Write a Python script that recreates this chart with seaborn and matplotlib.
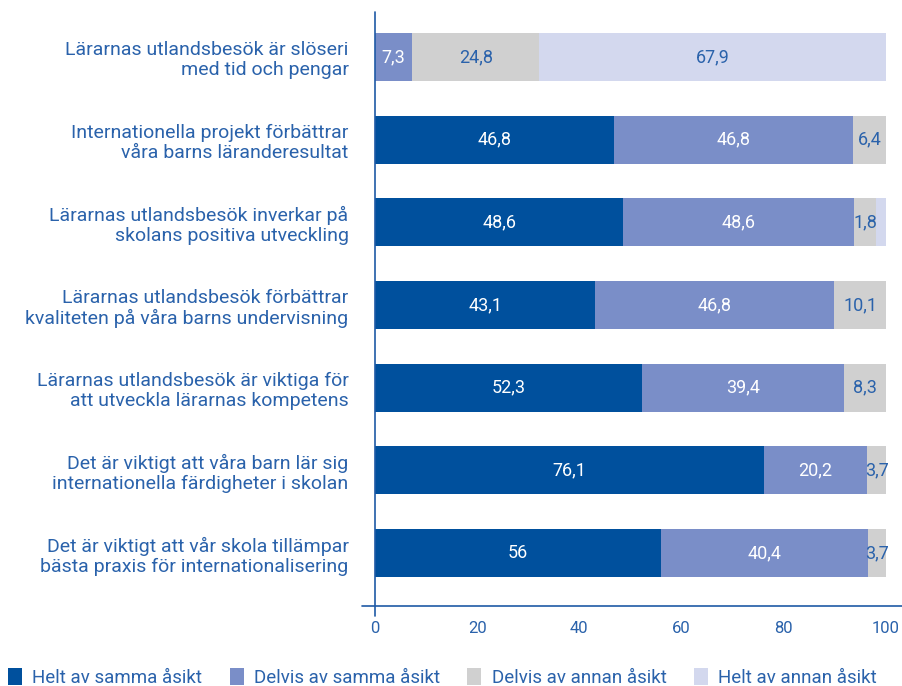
import matplotlib
matplotlib.use("Agg")
import matplotlib.pyplot as plt
import seaborn as sns
import pandas as pd
import numpy as np
from matplotlib.patches import Patch

categories = [
    "Lärarnas utlandsbesök är slöseri\nmed tid och pengar",
    "Internationella projekt förbättrar\nvåra barns läranderesultat",
    "Lärarnas utlandsbesök inverkar på\nskolans positiva utveckling",
    "Lärarnas utlandsbesök förbättrar\nkvaliteten på våra barns undervisning",
    "Lärarnas utlandsbesök är viktiga för\natt utveckla lärarnas kompetens",
    "Det är viktigt att våra barn lär sig\ninternationella färdigheter i skolan",
    "Det är viktigt att vår skola tillämpar\nbästa praxis för internationalisering",
]
series_names = ["Helt av samma åsikt", "Delvis av samma åsikt",
                "Delvis av annan åsikt", "Helt av annan åsikt"]
helt_samma = [0, 46.8, 48.6, 43.1, 52.3, 76.1, 56]
delvis_samma = [7.3, 46.8, 45.2, 46.8, 39.4, 20.2, 40.4]
delvis_annan = [24.8, 6.4, 4.2, 10.1, 8.3, 3.7, 3.7]
helt_annan = [67.9, 0, 2.0, 0, 0, 0, 0]

lab_helt_samma = ["", "46,8", "48,6", "43,1", "52,3", "76,1", "56"]
lab_delvis_samma = ["7,3", "46,8", "48,6", "46,8", "39,4", "20,2", "40,4"]
lab_delvis_annan = ["24,8", "6,4", "1,8", "10,1", "8,3", "3,7", "3,7"]
lab_helt_annan = ["67,9", "", "", "", "", "", ""]

xticks = [0, 20, 40, 60, 80, 100]

colors = ["#00509d", "#7a8ec8", "#d0d0d0", "#d3d8ee"]
text_blue = "#2a62ab"
label_colors = ["white", "white", text_blue, text_blue]

sns.set_theme(style="white")
plt.rcParams["font.family"] = ["Roboto", "DejaVu Sans"]

series = [helt_samma, delvis_samma, delvis_annan, helt_annan]
labels = [lab_helt_samma, lab_delvis_samma, lab_delvis_annan, lab_helt_annan]
arr = np.array(series, dtype=float)
cum = np.cumsum(arr, axis=0)

fig = plt.figure(figsize=(9.02, 6.86), dpi=100)
ax = fig.add_axes([375 / 902, 1 - 606 / 686, (886 - 375) / 902, (606 - 12) / 686])

df = pd.DataFrame({"cat": categories})
for i in range(3, -1, -1):
    df["val"] = cum[i]
    sns.barplot(data=df, x="val", y="cat", orient="h", color=colors[i],
                width=0.58, ax=ax, saturation=1, linewidth=0)

for i in range(4):
    starts = cum[i] - arr[i]
    for j in range(len(categories)):
        if labels[i][j]:
            ax.text(starts[j] + arr[i][j] / 2, j, labels[i][j], ha="center",
                    va="center", color=label_colors[i], fontsize=13)

ax.set_xlim(0, 100)
ax.set_ylim(6.64, -0.545)
ax.set_xlabel("")
ax.set_ylabel("")
ax.set_xticks(xticks)
ax.set_xticklabels([str(t) for t in xticks], color=text_blue, fontsize=12)
ax.tick_params(axis="x", length=0, pad=11)
ax.tick_params(axis="y", length=0, pad=19)
for lab in ax.get_yticklabels():
    lab.set_color(text_blue)
    lab.set_fontsize(14)
    lab.set_horizontalalignment("right")
    lab.set_multialignment("right")
    lab.set_linespacing(1.15)
for s in ["top", "right", "left", "bottom"]:
    ax.spines[s].set_visible(False)

# axis lines
line_c = "#1f5aa6"
fig.add_artist(plt.Line2D([362 / 902, 1.0], [1 - 606 / 686, 1 - 606 / 686],
                          color=line_c, lw=1.2))
fig.add_artist(plt.Line2D([375 / 902, 375 / 902], [1 - 12 / 686, 1 - 616 / 686],
                          color=line_c, lw=1.2))

handles = [Patch(facecolor=c, edgecolor="none") for c in colors]
leg = fig.legend(handles, series_names, loc="lower left", bbox_to_anchor=(8 / 902, -0.001),
                 ncol=4, frameon=False, fontsize=13.5, handlelength=0.75,
                 handleheight=1.0, handletextpad=0.55, columnspacing=1.45,
                 borderaxespad=0, borderpad=0)
for t in leg.get_texts():
    t.set_color(text_blue)

fig.savefig("out.png", dpi=100)
